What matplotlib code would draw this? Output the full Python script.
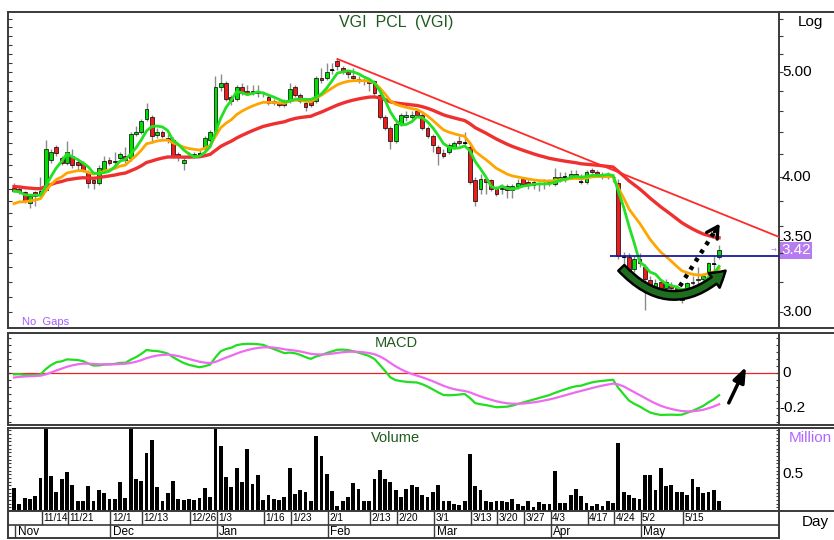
import numpy as np
import pandas as pd
import matplotlib
matplotlib.use('Agg')
import matplotlib.pyplot as plt
from matplotlib import font_manager as fm
from matplotlib.patches import FancyArrowPatch
from matplotlib.lines import Line2D
from matplotlib.ticker import FixedLocator, NullLocator
import matplotlib.transforms as mtrans

# ---------------- data ----------------
opens = [3.91, 3.90, 3.87, 3.78, 3.87, 3.86, 3.89, 4.15, 4.26, 4.16,
         4.12, 4.18, 4.13, 4.12, 4.03, 3.97, 3.95, 4.05, 4.15, 4.13,
         4.16, 4.18, 4.16, 4.38, 4.40, 4.52, 4.54, 4.37, 4.40, 4.34,
         4.33, 4.20, 4.12, 4.17, 4.18, 4.20, 4.25, 4.33, 4.40, 4.84,
         4.88, 4.74, 4.72, 4.84, 4.80, 4.80, 4.80, 4.78, 4.74, 4.70,
         4.68, 4.70, 4.70, 4.84, 4.76, 4.68, 4.70, 4.70, 4.94, 4.94,
         5.02, 5.12, 5.04, 5.00, 4.96, 4.92, 4.90, 4.90, 4.90, 4.76,
         4.54, 4.44, 4.32, 4.48, 4.54, 4.54, 4.60, 4.56, 4.44, 4.36,
         4.26, 4.21, 4.22, 4.26, 4.32, 4.30, 4.26, 3.97, 3.90, 3.98,
         3.97, 3.90, 3.90, 3.92, 3.89, 3.92, 3.98, 3.96, 3.96, 3.94,
         3.94, 3.95, 3.94, 3.98, 4.00, 4.00, 4.02, 3.96, 3.96, 4.06,
         4.04, 4.02, 4.00, 4.00, 3.95, 3.37, 3.37, 3.29, 3.36, 3.30,
         3.21, 3.16, 3.20, 3.16, 3.18, 3.16, 3.08, 3.14, 3.20, 3.21,
         3.22, 3.25, 3.32, 3.37]
highs = [3.95, 3.92, 3.88, 3.86, 3.88, 4.00, 4.33, 4.24, 4.28, 4.18,
         4.32, 4.24, 4.16, 4.14, 4.06, 4.00, 4.10, 4.18, 4.17, 4.22,
         4.22, 4.26, 4.40, 4.46, 4.52, 4.68, 4.56, 4.44, 4.42, 4.38,
         4.35, 4.22, 4.17, 4.22, 4.22, 4.24, 4.36, 4.42, 4.96, 4.98,
         4.90, 4.76, 4.86, 4.88, 4.86, 4.86, 4.86, 4.80, 4.76, 4.72,
         4.70, 4.72, 4.88, 4.86, 4.78, 4.70, 4.72, 4.96, 5.04, 5.10,
         5.10, 5.14, 5.06, 5.02, 5.04, 4.96, 4.94, 4.92, 4.92, 4.80,
         4.56, 4.46, 4.50, 4.58, 4.60, 4.60, 4.62, 4.58, 4.46, 4.38,
         4.28, 4.24, 4.30, 4.32, 4.36, 4.40, 4.28, 4.00, 4.02, 4.00,
         3.98, 3.92, 3.94, 3.94, 3.94, 3.98, 4.00, 3.98, 3.98, 3.96,
         3.98, 3.98, 4.08, 4.04, 4.04, 4.06, 4.06, 4.02, 4.06, 4.08,
         4.06, 4.04, 4.04, 4.02, 3.98, 3.41, 3.40, 3.38, 3.40, 3.32,
         3.24, 3.22, 3.22, 3.22, 3.20, 3.18, 3.12, 3.20, 3.24, 3.30,
         3.26, 3.34, 3.38, 3.46]
lows = [3.87, 3.86, 3.78, 3.74, 3.76, 3.84, 3.88, 4.12, 4.18, 4.10,
        4.10, 4.08, 4.06, 4.04, 3.91, 3.90, 3.93, 4.03, 4.10, 4.10,
        4.14, 4.12, 4.14, 4.36, 4.38, 4.50, 4.32, 4.34, 4.34, 4.30,
        4.16, 4.14, 4.06, 4.16, 4.16, 4.18, 4.22, 4.30, 4.38, 4.80,
        4.70, 4.66, 4.70, 4.76, 4.76, 4.76, 4.74, 4.74, 4.66, 4.66,
        4.64, 4.64, 4.68, 4.74, 4.68, 4.60, 4.64, 4.68, 4.88, 4.92,
        4.98, 5.02, 4.98, 4.94, 4.92, 4.88, 4.86, 4.80, 4.76, 4.52,
        4.42, 4.24, 4.30, 4.46, 4.50, 4.52, 4.54, 4.42, 4.34, 4.22,
        4.10, 4.16, 4.20, 4.24, 4.28, 4.28, 3.94, 3.76, 3.86, 3.86,
        3.88, 3.84, 3.86, 3.82, 3.82, 3.90, 3.92, 3.90, 3.90, 3.88,
        3.90, 3.92, 3.92, 3.96, 3.96, 3.98, 3.98, 3.94, 3.94, 4.02,
        4.00, 3.98, 3.98, 3.96, 3.36, 3.30, 3.24, 3.27, 3.30, 3.01,
        3.12, 3.14, 3.14, 3.14, 3.14, 3.10, 3.06, 3.12, 3.18, 3.18,
        3.20, 3.24, 3.28, 3.36]
closes = [3.88, 3.87, 3.80, 3.84, 3.84, 3.88, 4.24, 4.22, 4.21, 4.12,
          4.22, 4.10, 4.10, 4.06, 3.95, 3.95, 4.08, 4.14, 4.12, 4.14,
          4.20, 4.15, 4.38, 4.40, 4.50, 4.62, 4.36, 4.40, 4.36, 4.33,
          4.17, 4.17, 4.15, 4.18, 4.20, 4.20, 4.34, 4.40, 4.84, 4.88,
          4.72, 4.70, 4.84, 4.78, 4.78, 4.78, 4.78, 4.78, 4.68, 4.68,
          4.66, 4.66, 4.82, 4.76, 4.70, 4.64, 4.66, 4.94, 4.92, 5.00,
          5.02, 5.06, 5.00, 4.98, 4.94, 4.92, 4.90, 4.88, 4.78, 4.54,
          4.44, 4.32, 4.48, 4.56, 4.56, 4.56, 4.56, 4.44, 4.36, 4.28,
          4.21, 4.18, 4.28, 4.30, 4.30, 4.30, 3.96, 3.80, 3.98, 3.96,
          3.90, 3.86, 3.91, 3.89, 3.92, 3.95, 3.94, 3.94, 3.93, 3.94,
          3.95, 3.95, 4.00, 4.00, 4.00, 4.02, 4.00, 3.96, 4.04, 4.04,
          4.02, 4.00, 4.00, 4.00, 3.38, 3.37, 3.26, 3.36, 3.33, 3.22,
          3.16, 3.19, 3.16, 3.20, 3.16, 3.11, 3.10, 3.19, 3.19, 3.22,
          3.24, 3.33, 3.32, 3.42]
volumes = [0.315, 0.10, 0.18, 0.165, 0.205, 0.455, 1.18, 0.48, 0.265, 0.44,
           0.53, 0.36, 0.13, 0.13, 0.34, 0.14, 0.28, 0.24, 0.17, 0.17,
           0.40, 0.18, 1.18, 0.44, 0.415, 0.79, 0.965, 0.32, 0.13, 0.25,
           0.415, 0.17, 0.15, 0.17, 0.15, 0.18, 0.31, 0.19, 1.18, 0.89,
           0.465, 0.32, 0.58, 0.39, 0.85, 0.37, 0.49, 0.15, 0.215, 0.165,
           0.155, 0.19, 0.58, 0.23, 0.29, 0.265, 0.14, 1.02, 0.75, 0.50,
           0.27, 0.07, 0.135, 0.19, 0.38, 0.30, 0.13, 0.13, 0.43, 0.565,
           0.44, 0.40, 0.28, 0.19, 0.30, 0.355, 0.32, 0.22, 0.19, 0.255,
           0.35, 0.14, 0.13, 0.10, 0.08, 0.14, 0.775, 0.34, 0.28, 0.14,
           0.12, 0.14, 0.14, 0.12, 0.165, 0.10, 0.065, 0.14, 0.06, 0.125,
           0.10, 0.10, 0.54, 0.11, 0.11, 0.22, 0.30, 0.20, 0.11, 0.07,
           0.09, 0.065, 0.14, 0.115, 0.92, 0.26, 0.215, 0.18, 0.16, 0.49,
           0.49, 0.29, 0.58, 0.34, 0.35, 0.26, 0.26, 0.215, 0.44, 0.32,
           0.25, 0.265, 0.28, 0.14]

day_tick_idx = [5, 10, 18, 24, 33, 38, 47, 52, 59, 67, 72, 79, 86, 91, 96, 101, 108, 113, 118, 126]
day_tick_labels = ['11/14', '11/21', '12/1', '12/13', '12/26', '1/3', '1/16', '1/23', '2/1', '2/13',
                   '2/20', '3/1', '3/13', '3/20', '3/27', '4/3', '4/17', '4/24', '5/2', '5/15']
month_idx = [0, 18, 38, 59, 79, 101, 118]
month_labels = ['Nov', 'Dec', 'Jan', 'Feb', 'Mar', 'Apr', 'May']

price_labels = [3.00, 3.50, 4.00, 5.00]
last_price = 3.42
support_level = 3.38
support_start = 112.4
trend_x = [61, 144.3]
trend_p = [5.14, 3.52]
curve_arrow = [(114.2, 3.31), (134.6, 3.29)]
dotted_arrow = [(125.6, 3.17), (133.4, 3.64)]
macd_arrow = [(134.6, -0.185), (138.3, 0.05)]

# seeds of the averages (values before the first bar)
SEED_ORANGE, SEED_RED = 3.76, 3.92
SEED_EMA12, SEED_EMA26, SEED_SIGNAL = 3.86, 3.87, -0.03

# ---------------- indicators ----------------
def ema(values, span, seed):
    a = 2.0 / (span + 1)
    out, prev = [], seed
    for v in values:
        prev = prev + a * (v - prev)
        out.append(prev)
    return np.array(out)

o = np.array(opens); h = np.array(highs); l = np.array(lows); c = np.array(closes)
n = len(c)
x = np.arange(n)
ma_green = pd.Series(c).rolling(5, min_periods=1).mean().values
ma_orange = ema(c, 12, SEED_ORANGE)
ma_red = ema(c, 35, SEED_RED)
macd = ema(c, 12, SEED_EMA12) - ema(c, 26, SEED_EMA26)
signal = ema(macd, 9, SEED_SIGNAL)

# ---------------- fonts ----------------
names = {f.name for f in fm.fontManager.ttflist}
if 'Liberation Sans Narrow' in names:
    NF = dict(family='Liberation Sans Narrow')
else:
    NF = dict(family='Liberation Sans', stretch='condensed')

SPC = '#3a3a3a'
GREEN_C = '#00e000'
RED_C = '#ee1c1c'

fig = plt.figure(figsize=(8.34, 5.40), dpi=100)

def px_axes(left, top, right, bottom):
    return fig.add_axes([left / 834, 1 - bottom / 540, (right - left) / 834, (bottom - top) / 540])

ax_p = px_axes(8, 12, 779, 328)
ax_m = px_axes(8, 333, 779, 425)
ax_v = px_axes(8, 428, 779, 511)
ax_d = px_axes(8, 511, 779, 538)

XL = (-1.13, 144.3)
for ax in (ax_p, ax_m, ax_v, ax_d):
    ax.set_xlim(*XL)
    for s in ax.spines.values():
        s.set_color(SPC)
        s.set_linewidth(1.4)
    ax.tick_params(axis='x', bottom=False, labelbottom=False)

for ax in (ax_p, ax_m, ax_v):
    bb = ax.get_position()
    for yy in (bb.y0, bb.y1):
        fig.add_artist(Line2D([bb.x1, 1.0], [yy, yy], transform=fig.transFigure, color=SPC, lw=1.4))

# ---------------- price panel ----------------
ax_p.set_yscale('log')
ax_p.set_ylim(2.90, 5.68)
ax_p.vlines(x, l, h, color='#8a8a8a', lw=1.0, zorder=2)
body_b = np.minimum(o, c)
body_h = np.abs(c - o)
cols = [GREEN_C if cc > oo else RED_C for oo, cc in zip(o, c)]
ax_p.bar(x, body_h, bottom=body_b, width=0.72, color=cols, edgecolor='black', linewidth=0.5, zorder=3)
doji = body_h < 0.005
ax_p.hlines(c[doji], x[doji] - 0.38, x[doji] + 0.38, color='black', lw=1.2, zorder=3)

ax_p.plot(x, ma_red, color='#ee3030', lw=2.4, zorder=4)
ax_p.plot(x, ma_orange, color='#ffa500', lw=2.0, zorder=5)
ax_p.plot(x, ma_green, color='#22e022', lw=2.0, zorder=6)
ax_p.plot(trend_x, trend_p, color='#ff2a2a', lw=1.3, zorder=4)
ax_p.hlines(support_level, support_start, XL[1], color='#1a1aa0', lw=1.3, zorder=7)

arr = FancyArrowPatch(curve_arrow[0], curve_arrow[1], connectionstyle='arc3,rad=0.52',
                      arrowstyle='simple,head_width=1.1,head_length=0.9,tail_width=0.5',
                      mutation_scale=12, fc='#1f6e1f', ec='black', lw=1.8, zorder=8)
ax_p.add_patch(arr)
(dx0, dy0), (dx1, dy1) = dotted_arrow
ax_p.plot([dx0, dx0 + 0.85 * (dx1 - dx0)], [dy0, dy0 * (dy1 / dy0) ** 0.85], color='black',
          lw=3.2, ls=(0, (0.9, 1.3)), zorder=8)
ax_p.annotate('', xy=(dx1, dy1), xytext=(dx0 + 0.8 * (dx1 - dx0), dy0 * (dy1 / dy0) ** 0.8),
              arrowprops=dict(arrowstyle='->,head_width=0.45,head_length=0.8', color='black', lw=2.4),
              zorder=9)

left_ticks = [round(v, 1) for v in np.arange(3.0, 5.65, 0.1)]
ax_p.yaxis.set_major_locator(FixedLocator(left_ticks))
ax_p.yaxis.set_minor_locator(NullLocator())
ax_p.tick_params(axis='y', left=True, right=False, direction='in', length=3, color=SPC, labelleft=False)
axr = ax_p.twinx()
axr.set_yscale('log')
axr.set_ylim(ax_p.get_ylim())
axr.yaxis.set_major_locator(FixedLocator([round(v, 1) for v in np.arange(3.0, 5.65, 0.2)] + [3.5]))
axr.yaxis.set_minor_locator(NullLocator())
axr.tick_params(axis='y', direction='out', length=3, color=SPC, labelright=False)
for s in axr.spines.values():
    s.set_visible(False)
btr = mtrans.blended_transform_factory(ax_p.transAxes, ax_p.transData)
for pv in price_labels:
    ax_p.text(1.004, pv * (1.006 if pv == 3.5 else 1.0), f'{pv:.2f}', transform=btr, ha='left',
              va='center', fontsize=11, color='black', **NF)
ax_p.text(1.003, last_price, f'{last_price:.2f}', transform=btr, ha='left', va='center', fontsize=11,
          color='white', zorder=10, clip_on=False,
          bbox=dict(boxstyle='square,pad=0.1', fc='#b77cf2', ec='none'), **NF)
ax_p.text(0.993, last_price, '→', transform=btr, ha='center', va='center', fontsize=5, color='#b77cf2')
ax_p.text(0.503, 0.966, 'VGI  PCL  (VGI)', transform=ax_p.transAxes, ha='center', va='center',
          fontsize=11.5, color='#1f5a1f', **NF)
ax_p.text(0.018, 0.004, 'No  Gaps', transform=ax_p.transAxes, ha='left', va='bottom', fontsize=8,
          color='#a35cff', **NF)
fig.text(810 / 834, 1 - 22 / 540, 'Log', ha='center', va='center', fontsize=11, color='black', **NF)

# ---------------- MACD panel ----------------
ax_m.set_ylim(-0.297, 0.229)
ax_m.axhline(0, color='#ee2222', lw=0.9, zorder=1)
ax_m.plot(x, macd, color='#22dd22', lw=1.6, zorder=3)
ax_m.plot(x, signal, color='#ee6aee', lw=1.6, zorder=4)
ax_m.annotate('', xy=macd_arrow[1], xytext=macd_arrow[0],
              arrowprops=dict(arrowstyle='-|>,head_width=0.35,head_length=0.9', color='black', lw=2.5))
mt = [round(v, 2) for v in np.arange(-0.28, 0.22, 0.04)]
ax_m.yaxis.set_major_locator(FixedLocator(mt))
ax_m.tick_params(axis='y', left=True, right=True, direction='in', length=2, color=SPC, labelleft=False)
btm = mtrans.blended_transform_factory(ax_m.transAxes, ax_m.transData)
ax_m.text(1.004, 0, '0', transform=btm, ha='left', va='center', fontsize=11, **NF)
ax_m.text(1.0, -0.2, '-0.2', transform=btm, ha='left', va='center', fontsize=11, **NF)
ax_m.text(0.503, 0.89, 'MACD', transform=ax_m.transAxes, ha='center', va='center', fontsize=10.5,
          color='#1f5a1f', **NF)

# ---------------- Volume panel ----------------
ax_v.set_ylim(0, 1.13)
ax_v.bar(x, volumes, width=0.72, color='black', zorder=2)
vt = [round(v, 2) for v in np.arange(0.05, 1.13, 0.05)]
ax_v.yaxis.set_major_locator(FixedLocator(vt))
ax_v.tick_params(axis='y', left=True, right=True, direction='in', length=2, color=SPC, labelleft=False)
btv = mtrans.blended_transform_factory(ax_v.transAxes, ax_v.transData)
ax_v.text(1.004, 0.5, '0.5', transform=btv, ha='left', va='center', fontsize=11, **NF)
ax_v.text(0.503, 0.88, 'Volume', transform=ax_v.transAxes, ha='center', va='center', fontsize=10.5,
          color='#1f5a1f', **NF)
fig.text(810 / 834, 1 - 438 / 540, 'Million', ha='center', va='center', fontsize=11, color='#b366ff', **NF)

# ---------------- date rows ----------------
ax_d.set_ylim(0, 1)
ax_d.set_yticks([])
ax_d.axhline(0.5, color=SPC, lw=1.2)
for idx, lab in zip(day_tick_idx, day_tick_labels):
    ax_d.vlines(idx + 0.2, 0.5, 1.0, color=SPC, lw=1.0)
    ax_d.text(idx + 0.45, 0.74, lab, ha='left', va='center', fontsize=7.2, **NF)
for idx, lab in zip(month_idx, month_labels):
    ax_d.vlines(idx + 0.2, 0.0, 0.5, color=SPC, lw=1.0)
    ax_d.text(idx + 0.7, 0.24, lab, ha='left', va='center', fontsize=8.5, **NF)
fig.text(815 / 834, 1 - 522 / 540, 'Day', ha='center', va='center', fontsize=11, color='black', **NF)

fig.savefig('out.png', dpi=100)
